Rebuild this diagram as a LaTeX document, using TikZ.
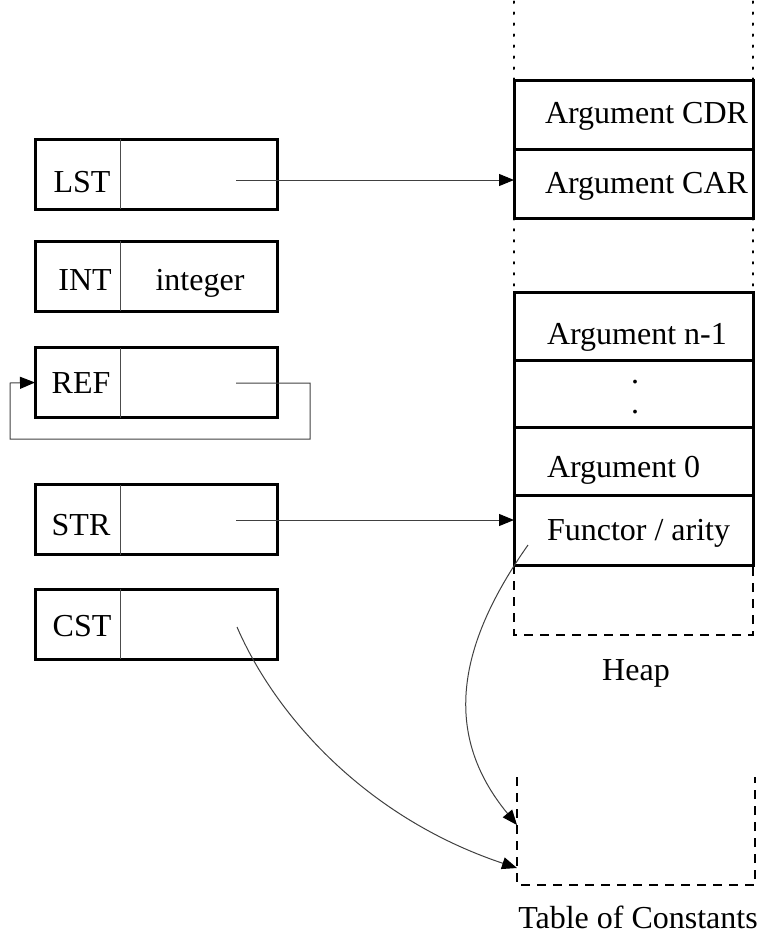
\documentclass[tikz,border=0pt]{standalone}
\usepackage{fontspec}
\setmainfont{Liberation Serif}
\usetikzlibrary{arrows.meta}

\begin{document}
\begin{tikzpicture}[x=1pt,y=-1pt,
  font=\fontsize{32}{38}\selectfont,
  every node/.style={inner sep=0pt,outer sep=0pt},
  cell/.style={minimum height=70pt},
  tagcell/.style={cell,minimum width=85pt},
  valcell/.style={cell,minimum width=157pt,anchor=west},
  word/.style={anchor=base},
  boxframe/.style={line width=3pt},
  divider/.style={line width=0.9pt,black!70},
  heapcell/.style={draw,line width=3pt,minimum width=239pt,anchor=north west},
  heaptext/.style={anchor=base west},
  dotline/.style={line width=2pt,dash pattern=on 1.6pt off 9.4pt,line cap=round},
  dashline/.style={line width=2.4pt,dash pattern=on 9pt off 7pt},
  link/.style={line width=1pt,black!75},
  tip/.style={-{Triangle[length=15pt,width=12pt,color=black]}}
]
\useasboundingbox (0,0) rectangle (760,943);

% ---- tagged words on the left
\node[tagcell] (lstT) at (77.5,174) {};
\node[valcell] (lstV) at (lstT.east) {};
\node[tagcell] (intT) at (77.5,276) {};
\node[valcell] (intV) at (intT.east) {};
\node[tagcell] (refT) at (77.5,382.5) {};
\node[valcell] (refV) at (refT.east) {};
\node[tagcell] (strT) at (77.5,519.5) {};
\node[valcell] (strV) at (strT.east) {};
\node[tagcell] (cstT) at (77.5,624) {};
\node[valcell] (cstV) at (cstT.east) {};

\foreach \w in {lst,int,ref,str,cst}{
  \draw[boxframe] (\w T.north west) rectangle (\w V.south east);
  \draw[divider] (\w T.north east) -- (\w T.south east);
}

\node[word] (lstW) at (82,192) {LST};
\node[word] (intW) at (85,290) {INT};
\node[word] (intX) at (200,290) {integer};
\node[word] (refW) at (81,393) {REF};
\node[word] (strW) at (81,535) {STR};
\node[word] (cstW) at (82,636) {CST};

% ---- heap cells
\node[heapcell,minimum height=69pt] (cdr) at (514,80) {};
\node[heapcell,minimum height=69pt] (car) at (514,149) {};
\node[heapcell,minimum height=68pt] (argn) at (514,292) {};
\node[heapcell,minimum height=67pt] (argd) at (514,360) {};
\node[heapcell,minimum height=68pt] (arg0) at (514,427) {};
\node[heapcell,minimum height=70pt] (fun) at (514,495) {};

\node[heaptext] (cdrT) at (545,123) {Argument CDR};
\node[heaptext] (carT) at (545,193) {Argument CAR};
\node[heaptext] (argnT) at (547,344) {Argument n-1};
\node[word] (dotA) at (635,383) {.};
\node[word] (dotB) at (635,413) {.};
\node[heaptext] (arg0T) at (547,477) {Argument 0};
\node[heaptext] (funT) at (547,540) {Functor / arity};

% continuation of the heap above, between and below the cells
\draw[dotline] (cdr.north west) -- +(0,-80);
\draw[dotline] (cdr.north east) -- +(0,-80);
\draw[dotline] (car.south west) -- (argn.north west);
\draw[dotline] (car.south east) -- (argn.north east);
\draw[dashline] (fun.south west) -- (514,635) -- (753,635) -- (fun.south east);
\node[word] (heapL) at (636,680) {Heap};

% ---- table of constants
\coordinate (tcTL) at (517,777);
\coordinate (tcBR) at (755,885);
\draw[dashline] (tcTL) -- (tcTL |- tcBR) -- (tcBR) -- (tcBR |- tcTL);
\node[word] (tcL) at (638,928) {Table of Constants};

% ---- pointers
\coordinate (lstP) at (236,180);
\coordinate (refP) at (236,383);
\coordinate (strP) at (236,520);
\coordinate (cstP) at (237,627);
\coordinate (funP) at (528,545);

\draw[link,tip] (lstP) -- (lstP -| car.west);
\draw[link,tip] (refP) -- (310,383) -- (310,439) -- (10,439) -- (10,383) -- (refT.west);
\draw[link,tip] (strP) -- (strP -| fun.west);
\draw[link,tip] (funP) .. controls (457,646) and (442,734) .. (tcTL |- 0,825);
\draw[link,tip] (cstP) .. controls (276,717) and (367,818) .. (tcTL |- 0,868);
\end{tikzpicture}
\end{document}
